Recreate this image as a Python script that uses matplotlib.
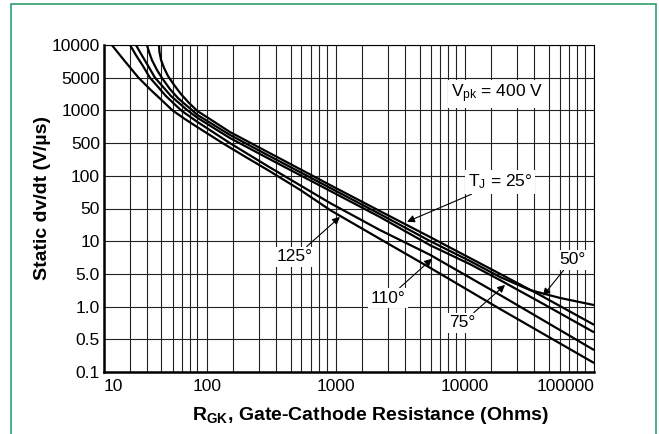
import numpy as np
import matplotlib
matplotlib.use("Agg")
import matplotlib.pyplot as plt
from matplotlib.patches import Rectangle

plt.rcParams['font.family'] = ['Liberation Sans', 'DejaVu Sans']
plt.rcParams['mathtext.fontset'] = 'custom'
plt.rcParams['mathtext.rm'] = 'Liberation Sans'
plt.rcParams['mathtext.it'] = 'Liberation Sans:italic'
plt.rcParams['mathtext.bf'] = 'Liberation Sans:bold'
plt.rcParams['mathtext.default'] = 'regular'

# ---------------------------
# Data (R_GK in ohms, static dv/dt in V/us)
# ---------------------------
r_125 = [23, 28, 35, 42, 50, 60, 74, 90, 160, 250, 350, 590, 940, 2700, 5950, 23500, 100000]
dv_125 = [10000, 7100, 5000, 2850, 1670, 1000, 835, 700, 500, 250, 134, 74, 46, 11.1, 5.7, 0.95, 0.156]

r_110 = [30, 33.5, 37.6, 42, 47.6, 54, 62, 70.6, 90, 188, 350, 940, 2690, 5950, 23500, 100000]
dv_110 = [10000, 8070, 6420, 5000, 3180, 2030, 1370, 986, 782, 500, 162, 56, 17.3, 7.5, 1.77, 0.295]

r_75 = [33.5, 36.5, 40, 45.5, 51.4, 58.6, 67.2, 76.9, 90, 188, 350, 940, 2690, 5950, 11900, 23500, 44100, 100000]
dv_75 = [10000, 8270, 6690, 5000, 3180, 2030, 1440, 1020, 853, 557, 240, 72.5, 32.9, 9.2, 6.15, 3.68, 1.25, 0.58]

r_50 = [40, 41.4, 43.4, 46.9, 50.5, 57.7, 66, 75.6, 83, 90, 188, 350, 940, 2690, 5950, 11900, 23500, 37600, 60600, 100000]
dv_50 = [10000, 8620, 7270, 5880, 4900, 2850, 1840, 1300, 1020, 908, 595, 278, 77.2, 38, 10.1, 6.57, 4.29, 2.26, 1.53, 1.08]

r_25 = [48.3, 48.6, 49.7, 52.3, 55.9, 61.7, 69.4, 79.4, 90, 188, 350, 940, 2690, 5950, 11900, 23500, 44100, 100000]
dv_25 = [10000, 8620, 7270, 6150, 5180, 3510, 2236, 1440, 986, 633, 324, 82, 44, 12.3, 7.0, 5.0, 1.77, 0.68]

y_ticks = [0.1, 0.5, 1, 5, 10, 50, 100, 500, 1000, 5000, 10000]
y_labels = ["0.1", "0.5", "1.0", "5.0", "10", "50", "100", "500", "1000", "5000", "10000"]
x_ticks = [20, 100, 1000, 10000, 100000]
x_labels = ["10", "100", "1000", "10000", "100000"]

# ---------------------------
# Chart grid scales (the original paper grid is not a true log grid)
# ---------------------------
DECADE_STEPS = np.array([0, 26, 52, 69, 83.5, 94.5, 103.5, 111.5, 119.5, 129]) / 129
MANTISSA = np.arange(1, 11)


def x_fwd(x):
    x = np.clip(np.asarray(x, float), 1e-9, None)
    u = np.log10(x)
    d = np.floor(u)
    return d + np.interp(10 ** (u - d), MANTISSA, DECADE_STEPS)


def x_inv(p):
    p = np.asarray(p, float)
    d = np.floor(p)
    return np.interp(p - d, DECADE_STEPS, MANTISSA) * 10 ** d


Y_LOG = np.log10(y_ticks)
Y_IDX = np.arange(len(y_ticks), dtype=float)


def interp_ext(v, xp, fp):
    s_lo = (fp[1] - fp[0]) / (xp[1] - xp[0])
    s_hi = (fp[-1] - fp[-2]) / (xp[-1] - xp[-2])
    return np.where(v < xp[0], fp[0] + (v - xp[0]) * s_lo,
                    np.where(v > xp[-1], fp[-1] + (v - xp[-1]) * s_hi,
                             np.interp(v, xp, fp)))


def y_fwd(y):
    v = np.log10(np.clip(np.asarray(y, float), 1e-9, None))
    return interp_ext(v, Y_LOG, Y_IDX)


def y_inv(k):
    return 10 ** interp_ext(np.asarray(k, float), Y_IDX, Y_LOG)


# ---------------------------
# Plot
# ---------------------------
fig = plt.figure(figsize=(6.59, 4.34), dpi=100)
ax = fig.add_axes([104 / 659, 1 - 372 / 434, 490 / 659, 327 / 434])
ax.set_xscale("function", functions=(x_fwd, x_inv))
ax.set_yscale("function", functions=(y_fwd, y_inv))
ax.set_xlim(20, 100000)
ax.set_ylim(0.1, 10000)

for r, dv in [(r_125, dv_125), (r_110, dv_110), (r_75, dv_75), (r_50, dv_50), (r_25, dv_25)]:
    ax.plot(r, dv, color="black", lw=1.6, solid_capstyle="butt", zorder=3)

grid_x = [m * 10 ** d for d in range(1, 5) for m in range(1, 10) if 20 <= m * 10 ** d <= 100000] + [100000]
ax.set_xticks(grid_x, minor=True)
ax.set_xticks(x_ticks)
ax.set_xticklabels(x_labels, fontsize=12.5)
ax.set_yticks(y_ticks)
ax.set_yticklabels(y_labels, fontsize=12.5)
ax.tick_params(axis="both", which="both", length=0)
ax.tick_params(axis="x", pad=5)
ax.tick_params(axis="y", pad=3)
labels = ax.get_xticklabels()
labels[0].set_horizontalalignment("left")
labels[-1].set_horizontalalignment("right")
ax.grid(True, which="both", color="#222222", lw=0.8, zorder=1)
ax.set_axisbelow(True)

for side in ["left", "bottom"]:
    ax.spines[side].set_linewidth(1.8)
for side in ["top", "right"]:
    ax.spines[side].set_linewidth(0.8)

fig.text(43 / 659, 1 - 198 / 434, "Static dv/dt (V/µs)", rotation=90,
         ha="center", va="center", fontsize=14, fontweight="bold")
fig.text(370 / 659, 1 - 415 / 434, r"R$_{\mathbf{GK}}$, Gate-Cathode Resistance (Ohms)",
         ha="center", va="center", fontsize=14, fontweight="bold")

box = dict(facecolor="white", edgecolor="none", pad=2)
arrow = dict(arrowstyle="-|>", color="black", lw=0.8, mutation_scale=11, shrinkA=0, shrinkB=0)

ax.text(0.802, 0.850, r"V$_{pk}$ = 400 V", transform=ax.transAxes, ha="center", va="center",
        fontsize=12.5, bbox=box)
ax.annotate(r"T$_J$ = 25°", xy=(4140, 26), xytext=(0.808, 0.581), textcoords="axes fraction",
            ha="center", va="center", fontsize=12.5, bbox=box, arrowprops=arrow)
ax.annotate("125°", xy=(1150, 33), xytext=(0.390, 0.352), textcoords="axes fraction",
            ha="center", va="center", fontsize=12.5, bbox=box, arrowprops=arrow)
ax.annotate("110°", xy=(6170, 6.9), xytext=(0.580, 0.226), textcoords="axes fraction",
            ha="center", va="center", fontsize=12.5, bbox=box, arrowprops=arrow)
ax.annotate("75°", xy=(25400, 2.9), xytext=(0.731, 0.150), textcoords="axes fraction",
            ha="center", va="center", fontsize=12.5, bbox=box, arrowprops=arrow)
ax.annotate("50°", xy=(46200, 1.7), xytext=(0.955, 0.343), textcoords="axes fraction",
            ha="center", va="center", fontsize=12.5, bbox=box, arrowprops=arrow)

fig.add_artist(Rectangle((11 / 659, -0.05), 645 / 659, 1.05 - 4 / 434, transform=fig.transFigure,
                         fill=False, edgecolor="#2f9e6e", lw=1.2))

fig.savefig("out.png", dpi=100)
